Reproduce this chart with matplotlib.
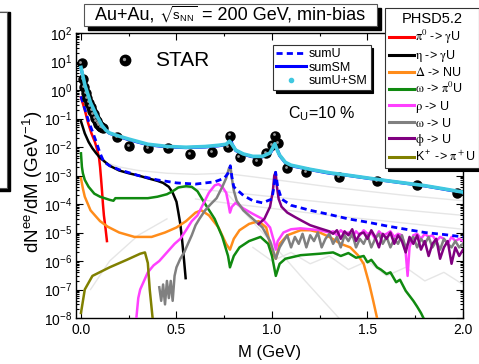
import numpy as np
import matplotlib
matplotlib.use('Agg')
import matplotlib.pyplot as plt
from matplotlib.lines import Line2D
from matplotlib.patches import Rectangle
from matplotlib.text import Annotation
import matplotlib.transforms as mtransforms
from matplotlib.ticker import LogLocator, MultipleLocator, FixedLocator, NullFormatter, FixedFormatter

plt.rcParams['font.family'] = ['Liberation Sans', 'DejaVu Sans']
plt.rcParams['mathtext.default'] = 'regular'

# ---------------- data ----------------
star_M = [0.003, 0.010, 0.018, 0.026, 0.034, 0.042, 0.050, 0.058, 0.066, 0.074, 0.082, 0.090,
          0.098, 0.106, 0.115, 0.19, 0.25, 0.35, 0.455, 0.57, 0.685, 0.77, 0.78, 0.83, 0.92,
          0.97, 1.00, 1.015, 1.03, 1.08, 1.18, 1.35, 1.55, 1.76, 1.97]
star_y = [9.0, 2.4, 1.3, 0.80, 0.52, 0.36, 0.26, 0.19, 0.14, 0.105, 0.082, 0.066,
          0.056, 0.050, 0.045, 0.022, 0.011, 0.009, 0.009, 0.0056, 0.0066, 0.010, 0.025, 0.0045, 0.0033,
          0.006, 0.012, 0.025, 0.014, 0.0018, 0.0013, 0.0009, 0.00065, 0.00047, 0.00025]

sm_M = [0.0, 0.02, 0.05, 0.08, 0.11, 0.13, 0.15, 0.2, 0.25, 0.35, 0.45, 0.55, 0.65, 0.72, 0.76,
        0.775, 0.782, 0.79, 0.81, 0.85, 0.9, 0.95, 0.99, 1.012, 1.019, 1.026, 1.04, 1.07, 1.1,
        1.2, 1.3, 1.4, 1.5, 1.6, 1.7, 1.8, 1.9, 2.0]
sm_y = [6.0, 1.5, 0.35, 0.13, 0.055, 0.038, 0.030, 0.023, 0.018, 0.012, 0.010, 0.0095, 0.010, 0.011, 0.012,
        0.015, 0.027, 0.013, 0.0075, 0.0055, 0.0045, 0.0045, 0.006, 0.010, 0.022, 0.009, 0.005, 0.0028, 0.0022,
        0.0016, 0.0012, 0.001, 0.0008, 0.00065, 0.00053, 0.00043, 0.00033, 0.00025]

cyan_M = [0.0, 0.02, 0.05, 0.08, 0.11, 0.13, 0.15, 0.2, 0.25, 0.35, 0.45, 0.55, 0.65, 0.72, 0.76,
          0.778, 0.79, 0.81, 0.85, 0.9, 0.95, 0.99, 1.015, 1.03, 1.04, 1.07, 1.1,
          1.2, 1.3, 1.4, 1.5, 1.6, 1.7, 1.8, 1.9, 2.0]
cyan_y = [6.2, 1.55, 0.36, 0.135, 0.057, 0.039, 0.031, 0.024, 0.019, 0.0125, 0.0105, 0.0098, 0.0104, 0.0115, 0.0125,
          0.016, 0.0125, 0.0078, 0.0057, 0.0047, 0.0047, 0.0062, 0.013, 0.007, 0.0052, 0.0029, 0.0023,
          0.00165, 0.00125, 0.00102, 0.00082, 0.00066, 0.00054, 0.00044, 0.00034, 0.00026]

sumU_M = [0.0, 0.02, 0.04, 0.06, 0.08, 0.1, 0.12, 0.15, 0.2, 0.3, 0.4, 0.5, 0.6, 0.7, 0.75, 0.77,
          0.782, 0.79, 0.8, 0.85, 0.9, 0.95, 1.0, 1.01, 1.019, 1.03, 1.05, 1.1, 1.2, 1.3, 1.4,
          1.5, 1.6, 1.7, 1.8, 1.9, 2.0]
sumU_y = [0.6, 0.22, 0.08, 0.035, 0.015, 0.006, 0.003, 0.0022, 0.0016, 0.001, 0.0007, 0.00055, 0.0005, 0.0006, 0.0008, 0.0012,
          0.0022, 0.0009, 0.0004, 0.0002, 0.00013, 0.00011, 0.00015, 0.0004, 0.0013, 0.0004, 0.00015, 9e-5, 6e-5, 4.3e-5, 3e-5,
          2.3e-5, 1.7e-5, 1.3e-5, 1e-5, 8.5e-6, 7e-6]

pi0_M = [0.0, 0.02, 0.037, 0.055, 0.073, 0.085, 0.095, 0.1, 0.105, 0.11, 0.115, 0.12, 0.128, 0.136]
pi0_y = [0.55, 0.2, 0.07, 0.03, 0.015, 0.008, 0.004, 0.002, 0.0008, 0.0003, 0.0001, 4e-5, 1.5e-5, 5e-6]

eta_M = [0.0, 0.02, 0.04, 0.06, 0.08, 0.1, 0.15, 0.2, 0.25, 0.3, 0.35, 0.4, 0.43, 0.46, 0.48, 0.5,
         0.51, 0.52, 0.53, 0.54, 0.548]
eta_y = [0.08, 0.03, 0.015, 0.009, 0.006, 0.0042, 0.0022, 0.0015, 0.0012, 0.001, 0.0008, 0.00065, 0.00055, 0.0004,
         0.00025, 0.00012, 5e-5, 2e-5, 5e-6, 1e-6, 2.5e-7]

delta_M = [0.0, 0.01, 0.02, 0.05, 0.073, 0.1, 0.14, 0.2, 0.28, 0.37, 0.44, 0.5, 0.55, 0.6, 0.63, 0.67,
           0.72, 0.76, 0.78, 0.8, 0.83, 0.88, 0.93, 0.97, 1.0, 1.02, 1.04, 1.08, 1.15, 1.2, 1.25,
           1.3, 1.36, 1.41, 1.45, 1.48, 1.51, 1.53, 1.55]
delta_y = [8e-4, 3.5e-4, 1.8e-4, 6e-5, 4e-5, 2.5e-5, 1.6e-5, 1e-5, 7e-6, 7e-6, 1e-5, 1.5e-5, 2.5e-5, 5e-5, 6e-5, 4e-5,
           1.5e-5, 4e-6, 2.5e-6, 6e-6, 1.2e-5, 2e-5, 2.5e-5, 1.5e-5, 2e-6, 1.2e-6, 4e-6, 8e-6, 1.2e-5, 1.2e-5, 1e-5,
           7e-6, 4e-6, 3e-6, 1.6e-6, 8e-7, 1.5e-7, 4e-8, 1e-8]

omg0_M = [0.0, 0.005, 0.01, 0.02, 0.04, 0.07, 0.1, 0.15, 0.17, 0.18, 0.25, 0.3, 0.35, 0.4, 0.45, 0.48,
          0.51, 0.55, 0.58, 0.61, 0.65, 0.7, 0.74, 0.77, 0.78, 0.8, 0.83, 0.88, 0.94, 0.98, 1.0,
          1.02, 1.04, 1.07, 1.15, 1.25, 1.32, 1.36, 1.4, 1.44, 1.48, 1.5, 1.52, 1.55, 1.57, 1.6,
          1.62, 1.65, 1.67, 1.7, 1.72, 1.74, 1.76, 1.78, 1.8]
omg0_y = [0.006, 0.002, 1.2e-3, 7e-4, 4e-4, 2.3e-4, 1.8e-4, 1.4e-4, 1.3e-4, 1.6e-4, 1.6e-4, 1.6e-4, 1.6e-4, 1.8e-4, 2.2e-4, 2.8e-4,
          3.8e-4, 4.2e-4, 4e-4, 2.8e-4, 1e-4, 3e-5, 7e-6, 1.5e-6, 6e-7, 1.5e-6, 3e-6, 5e-6, 7e-6, 4e-6, 1.5e-6,
          3e-7, 8e-7, 1.2e-6, 1.6e-6, 1.8e-6, 2e-6, 1.5e-6, 1.9e-6, 1.3e-6, 1.5e-6, 9e-7, 1.1e-6, 6e-7, 5e-7, 3.5e-7,
          4e-7, 1.8e-7, 2.2e-7, 9e-8, 6e-8, 4e-8, 2.5e-8, 1.5e-8, 8e-9]

rho_M = [0.29, 0.30, 0.31, 0.33, 0.35, 0.38, 0.41, 0.45, 0.49, 0.52, 0.55, 0.58, 0.61, 0.64, 0.67, 0.70,
         0.72, 0.74, 0.76, 0.77, 0.78, 0.79, 0.81, 0.85, 0.9, 0.95, 0.99, 1.01, 1.02, 1.03, 1.06, 1.1,
         1.15, 1.2, 1.25, 1.3, 1.32, 1.34, 1.36, 1.38, 1.40, 1.42, 1.44, 1.46, 1.48, 1.50, 1.52, 1.54,
         1.56, 1.58, 1.60, 1.62, 1.64, 1.66, 1.68, 1.70, 1.71, 1.72, 1.74, 1.76, 1.78, 1.80, 1.82, 1.84,
         1.86, 1.88, 1.90, 1.92, 1.94, 1.96, 1.98, 2.00]
rho_y = [1e-8, 5e-8, 1e-7, 2e-7, 4e-7, 7e-7, 1e-6, 2e-6, 4e-6, 6e-6, 1.2e-5, 2.5e-5, 4e-5, 1e-4, 2.5e-4, 4.5e-4,
         5e-4, 4e-4, 2.5e-4, 1.2e-4, 5e-5, 8e-5, 1.1e-4, 7e-5, 4.5e-5, 3e-5, 1.5e-5, 5e-6, 2.5e-6, 5e-6, 1e-5, 1.3e-5,
         1.4e-5, 1.3e-5, 1.2e-5, 1e-5, 1.1e-5, 8e-6, 1.2e-5, 9e-6, 1e-5, 7e-6, 1.1e-5, 8e-6, 1.2e-5, 9e-6, 1e-5, 6e-6,
         1.1e-5, 8e-6, 9e-6, 1.1e-5, 7e-6, 9e-6, 8e-6, 2e-6, 3e-7, 3e-6, 8e-6, 9e-6, 6e-6, 9e-6, 7e-6, 8e-6,
         5e-6, 7e-6, 6e-6, 4e-6, 7e-6, 5e-6, 6e-6, 5e-6]

omg_M = [0.41, 0.42, 0.43, 0.44, 0.45, 0.46, 0.47, 0.48, 0.49, 0.5, 0.52, 0.54, 0.56, 0.58, 0.6, 0.62,
         0.65, 0.68, 0.71, 0.74, 0.76, 0.775, 0.783, 0.79, 0.80, 0.815, 0.85, 0.9, 0.95, 0.99, 1.02, 1.04,
         1.06, 1.08, 1.10, 1.12, 1.14, 1.16, 1.18, 1.20, 1.22, 1.24, 1.26, 1.28, 1.30, 1.32, 1.34, 1.36,
         1.38, 1.40, 1.42, 1.44, 1.46, 1.48, 1.50, 1.52, 1.54, 1.56, 1.58, 1.60, 1.62, 1.64, 1.66, 1.68,
         1.70, 1.72, 1.74, 1.76, 1.78, 1.80, 1.82, 1.84, 1.86, 1.88, 1.90, 1.92, 1.94, 1.96, 1.98, 2.00]
omg_y = [1.2e-7, 4e-8, 1.5e-7, 3e-8, 2e-7, 5e-8, 2e-7, 4e-8, 3e-7, 6e-7, 1.2e-6, 2e-6, 4e-6, 8e-6, 1.8e-5, 3e-5,
         6e-5, 1e-4, 1.6e-4, 4e-4, 8e-4, 1.8e-3, 2e-3, 8e-4, 3e-4, 1.3e-4, 6e-5, 3e-5, 1.5e-5, 5e-6, 1.2e-6, 3e-6,
         5e-6, 8e-6, 3e-6, 7e-6, 4e-6, 9e-6, 3e-6, 8e-6, 5e-6, 1e-5, 3e-6, 6e-6, 9e-6, 4e-6, 7e-6, 3e-6,
         8e-6, 5e-6, 9e-6, 3e-6, 6e-6, 4e-6, 8e-6, 3e-6, 6e-6, 9e-6, 4e-6, 7e-6, 3e-6, 6e-6, 4e-6, 8e-6,
         3e-6, 5e-6, 7e-6, 3e-6, 6e-6, 4e-6, 7e-6, 3e-6, 5e-6, 2.5e-6, 6e-6, 4e-6, 3e-6, 5e-6, 3e-6, 4e-6]

phi_M = [0.93, 0.96, 0.99, 1.005, 1.012, 1.019, 1.026, 1.035, 1.05, 1.08, 1.12, 1.16, 1.2, 1.25, 1.3,
         1.32, 1.34, 1.36, 1.38, 1.40, 1.42, 1.44, 1.46, 1.48, 1.50, 1.52, 1.54, 1.56, 1.58, 1.60, 1.62,
         1.64, 1.66, 1.68, 1.70, 1.72, 1.74, 1.76, 1.78, 1.80, 1.82, 1.84, 1.86, 1.88, 1.90, 1.92, 1.94,
         1.96, 1.98, 2.00]
phi_y = [2e-5, 3e-5, 8e-5, 3e-4, 1e-3, 1.3e-3, 4e-4, 1.5e-4, 8e-5, 5e-5, 3.5e-5, 2.5e-5, 1.8e-5, 1.4e-5, 1.1e-5,
         9e-6, 1.2e-5, 6e-6, 1.1e-5, 8e-6, 1.3e-5, 5e-6, 9e-6, 1e-5, 6e-6, 1.2e-5, 7e-6, 3e-6, 9e-6, 6e-6, 1e-5,
         4e-6, 8e-6, 5e-6, 2e-6, 7e-6, 4e-6, 8e-6, 2.5e-6, 5e-6, 1.5e-6, 4e-6, 6e-6, 1.2e-6, 3e-6, 5e-6, 8e-7,
         3e-6, 1.5e-6, 2.5e-6]

kaon_M = [0.0, 0.02, 0.06, 0.15, 0.24, 0.31, 0.335, 0.35, 0.36, 0.375]
kaon_y = [1.5e-8, 1e-7, 3e-7, 6e-7, 1.1e-6, 1.8e-6, 2e-6, 8.5e-7, 1e-7, 1e-8]

# faint background curves
ghostA_M = [0.12, 0.2, 0.3, 0.45, 0.6, 0.75, 0.9, 1.1, 1.3, 1.5, 1.7, 2.0]
ghostA_y = [3e-3, 2e-3, 1.5e-3, 1.2e-3, 1.1e-3, 1.2e-3, 9e-4, 6e-4, 4e-4, 2.8e-4, 2e-4, 1.3e-4]
ghostB_M = [0.5, 0.8, 1.0, 1.3, 1.6, 2.0]
ghostB_y = [4e-4, 2.5e-4, 1.8e-4, 1.1e-4, 7e-5, 4e-5]
ghostC_M = [0.6, 0.8, 1.0, 1.3, 1.6, 2.0]
ghostC_y = [1.5e-4, 1e-4, 7e-5, 4e-5, 2.5e-5, 1.3e-5]
ghostD_M = [0.9, 1.0, 1.1, 1.2, 1.3, 1.4, 1.5, 1.6, 1.7, 1.8, 1.9, 2.0]
ghostD_y = [3e-6, 1e-6, 2e-6, 8e-7, 1.5e-6, 5e-7, 1e-6, 3e-7, 6e-7, 2e-7, 4e-7, 1.5e-7]
ghostE_M = [0.05, 0.15, 0.3, 0.45]
ghostE_y = [1e-7, 1e-6, 8e-6, 3e-5]
ghostF_M = [0.75, 0.95, 1.15, 1.35]
ghostF_y = [3e-4, 1e-5, 3e-7, 1e-8]

comp_labels = [r'$\mathrm{\pi^0}$ -> $\mathrm{\gamma}$U', r'$\mathrm{\eta}$ -> $\mathrm{\gamma}$U',
               r'$\mathrm{\Delta}$ -> NU', r'$\mathrm{\omega}$ -> $\mathrm{\pi^0}$U',
               r'$\mathrm{\rho}$ -> U', r'$\mathrm{\omega}$ -> U', r'$\mathrm{\phi}$ -> U',
               r'K$^+$ -> $\mathrm{\pi^+}$U']
comp_colors = ['#ff0000', '#000000', '#ff8c1a', '#108a10', '#ff40ff', '#808080', '#800080', '#808000']
x_ticks = [0.0, 0.5, 1.0, 1.5, 2.0]
x_ticklabels = ['0.0', '0.5', '1.0', '1.5', '2.0']

# ---------------- figure ----------------
W, H = 479, 364
fig = plt.figure(figsize=(W / 100, H / 100), dpi=100)
ax = fig.add_axes([76 / W, 1 - 318 / H, (463 - 76) / W, (318 - 33) / H])

def fx(px):
    return px / W

def fy(py):
    return 1 - py / H

ghost_c = '#e6e6e6'
for gm, gy in [(ghostA_M, ghostA_y), (ghostB_M, ghostB_y), (ghostC_M, ghostC_y),
               (ghostD_M, ghostD_y), (ghostE_M, ghostE_y), (ghostF_M, ghostF_y)]:
    ax.plot(gm, gy, color=ghost_c, lw=1.0, zorder=1)

lw = 1.8
series = [(pi0_M, pi0_y), (eta_M, eta_y), (delta_M, delta_y), (omg0_M, omg0_y),
          (rho_M, rho_y), (omg_M, omg_y), (phi_M, phi_y), (kaon_M, kaon_y)]
order = [2, 3, 4, 5, 6, 7, 1, 0]
for i in order:
    m, y = series[i]
    ax.plot(m, y, color=comp_colors[i], lw=lw, zorder=3 + i * 0.1)

ax.plot(sumU_M, sumU_y, color='#0000ff', lw=2.0, ls=(0, (2.2, 1.5)), zorder=5)
ax.plot(sm_M, sm_y, color='#0000ff', lw=2.2, zorder=6)

# STAR data as shaded balls
ax.plot(star_M, star_y, ls='none', marker='o', ms=6.5, color='black', zorder=7)
off = mtransforms.offset_copy(ax.transData, fig=fig, x=-1.2, y=1.2, units='dots')
ax.plot(star_M, star_y, ls='none', marker='o', ms=2.0, color='#9a9a9a', mec='none', transform=off, zorder=7.1)

ax.plot(cyan_M, cyan_y, color='#40c8e0', lw=2.6, zorder=8)

ax.set_yscale('log')
ax.set_ylim(1e-8, 1e2)
ax.set_xlim(-0.026, 2.0)
ax.xaxis.set_major_locator(FixedLocator(x_ticks))
ax.xaxis.set_major_formatter(FixedFormatter(x_ticklabels))
ax.xaxis.set_minor_locator(MultipleLocator(0.25))
ax.yaxis.set_major_locator(LogLocator(base=10, numticks=15))
ax.yaxis.set_minor_locator(LogLocator(base=10, subs=np.arange(2, 10), numticks=15))
ax.yaxis.set_minor_formatter(NullFormatter())
ax.tick_params(which='both', direction='in', top=True, right=True, labelsize=10, width=0.8)
ax.tick_params(which='major', length=5)
ax.tick_params(which='minor', length=2.5)
ax.tick_params(axis='y', pad=2.5)
for s in ax.spines.values():
    s.set_linewidth(1.0)

fig.text(fx(33), fy(182), r'dN$^{ee}$/dM (GeV$^{-1}$)', rotation=90, ha='center', va='center', fontsize=13.5)
fig.text(fx(270), fy(352), 'M (GeV)', ha='center', va='center', fontsize=12)

# STAR label
fig.add_artist(Line2D([fx(125)], [fy(60)], transform=fig.transFigure, marker='o', ms=7.5, color='black', ls='none'))
fig.add_artist(Line2D([fx(123.5)], [fy(58.5)], transform=fig.transFigure, marker='o', ms=2.4, color='#9a9a9a', mec='none', ls='none'))
fig.text(fx(155), fy(61), 'STAR', ha='left', va='center', fontsize=15)

fig.text(fx(322), fy(114), r'C$_{U}$=10 %', ha='center', va='center', fontsize=11.5)

# title box
fig.add_artist(Rectangle((fx(88), fy(30)), fx(377 - 84), 22 / H, transform=fig.transFigure,
                         facecolor='black', edgecolor='black', zorder=20))
fig.add_artist(Rectangle((fx(84), fy(26)), fx(377 - 84), 22 / H, transform=fig.transFigure,
                         facecolor='white', edgecolor='#555555', lw=0.8, zorder=21))
t1 = fig.text(fx(95), fy(20), 'Au+Au, ', ha='left', va='baseline', fontsize=13, zorder=22)
t2 = Annotation(r'$\sqrt{s_{NN}}$', xy=(1, fy(20)), xycoords=(t1, 'figure fraction'), ha='left', va='baseline',
                fontsize=9.5, math_fontfamily='stix', zorder=22)
fig.add_artist(t2)
t3 = Annotation(' = 200 GeV, min-bias', xy=(1, fy(20)), xycoords=(t2, 'figure fraction'), ha='left', va='baseline',
                fontsize=13, zorder=22)
fig.add_artist(t3)

# left partial box (neighbouring panel)
fig.add_artist(Rectangle((fx(-20), fy(191)), fx(30), 179 / H, transform=fig.transFigure,
                         facecolor='black', edgecolor='black', zorder=20))
fig.add_artist(Rectangle((fx(-20), fy(188)), fx(27), 176 / H, transform=fig.transFigure,
                         facecolor='white', edgecolor='#555555', lw=0.8, zorder=21))

# legend sums
h1 = [Line2D([], [], color='#0000ff', ls=(0, (2.2, 1.5)), lw=2.0),
      Line2D([], [], color='#0000ff', lw=2.2),
      Line2D([], [], ls='none', marker='o', ms=3, color='#40c8e0')]
leg1 = fig.legend(h1, ['sumU', 'sumSM', 'sumU+SM'], loc='upper left', bbox_to_anchor=(fx(273), fy(45)),
                  bbox_transform=fig.transFigure, frameon=True, fancybox=False, edgecolor='#333333',
                  framealpha=1, shadow={'color': 'black', 'alpha': 1}, fontsize=9, handlelength=2.4,
                  handletextpad=0.2, borderpad=0.25, labelspacing=0.12, borderaxespad=0)
leg1.get_frame().set_linewidth(0.8)

h2 = [Line2D([], [], color=c, lw=2.2) for c in comp_colors]
leg2 = fig.legend(h2, comp_labels, loc='upper left', bbox_to_anchor=(fx(385), fy(8)),
                  bbox_transform=fig.transFigure, frameon=True, fancybox=False, edgecolor='#333333',
                  framealpha=1, shadow={'color': 'black', 'alpha': 1}, fontsize=9, handlelength=2.0,
                  handletextpad=0.1, borderpad=0.3, labelspacing=0.17, borderaxespad=0,
                  title='PHSD5.2', title_fontsize=10.5)
leg2.get_frame().set_linewidth(0.8)
for t in leg2.get_texts():
    t.set_math_fontfamily('stix')
leg2.set_zorder(30)

fig.savefig('out.png', dpi=100)
